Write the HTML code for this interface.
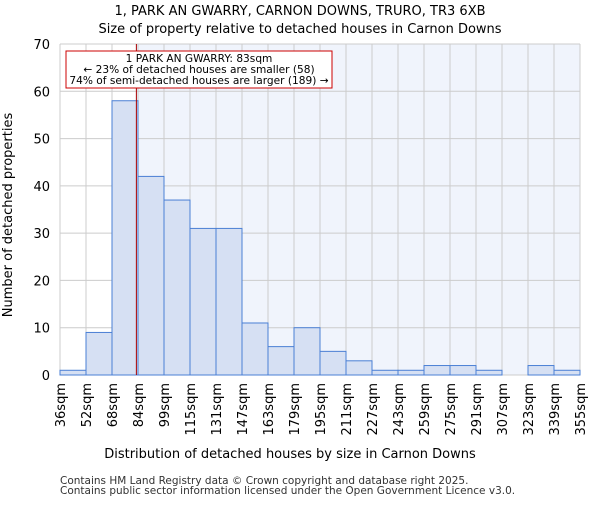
<!DOCTYPE html>
<html><head><meta charset="utf-8"><style>body{margin:0;background:#fff}svg{font-family:"DejaVu Sans","Liberation Sans",sans-serif}</style></head>
<body>
<svg id="c" width="600" height="500"></svg>
<script>
const edges=[36,52,68,84,99,115,131,147,163,179,195,211,227,243,259,275,291,307,323,339,355];
const counts=[1,9,58,42,37,31,31,11,6,10,5,3,1,1,2,2,1,0,2,1];
const yTicks=[0,10,20,30,40,50,60,70];
const marker=83;
const svg=document.getElementById('c');const NS='http://www.w3.org/2000/svg';
const L=60,R=580,T=44,B=375;
const xs=i=>L+(R-L)*i/counts.length;
const xv=v=>{for(let i=0;i<edges.length-1;i++){if(v<=edges[i+1])return xs(i)+(v-edges[i])/(edges[i+1]-edges[i])*(xs(i+1)-xs(i));}return R;};
const y=v=>B-(B-T)*v/70;
function el(t,a,name,txt){const e=document.createElementNS(NS,t);for(const k in a)e.setAttribute(k,a[k]);


if(txt!==undefined)e.textContent=txt;svg.appendChild(e);return e;}
const mx=xv(marker);
el('rect',{x:L,y:T,width:mx-L,height:B-T,fill:'#ffffff'},'plot-background-left');
el('rect',{x:mx,y:T,width:R-mx,height:B-T,fill:'#f0f4fc'},'plot-background-right');
yTicks.forEach(t=>{el('line',{x1:L,x2:R,y1:y(t),y2:y(t),stroke:'#cccccc'},'y-gridline');
el('text',{x:50,y:y(t)+5,'text-anchor':'end','font-size':13},'y-tick-label',t);});
edges.forEach((e,i)=>{el('line',{x1:xs(i),x2:xs(i),y1:T,y2:B,stroke:'#cccccc'},'x-gridline');
el('text',{transform:`translate(${xs(i)+5},${B+8}) rotate(-90)`,'text-anchor':'end','font-size':13},'x-tick-label',e+'sqm');});
counts.forEach((c,i)=>{if(c>0)el('rect',{x:xs(i),y:y(c),width:xs(i+1)-xs(i),height:B-y(c),fill:'#d6e0f3',stroke:'#4a7fd4','stroke-width':1},'bar-'+edges[i]);});
el('line',{x1:mx,x2:mx,y1:T,y2:B,stroke:'#aa0000','stroke-width':1},'property-marker-line');
el('rect',{x:66,y:51,width:266,height:37,fill:'#fff',stroke:'#cc0000'},'annotation-box');
el('text',{x:199,y:62,'text-anchor':'middle','font-size':10.6},'annotation-title','1 PARK AN GWARRY: 83sqm');
el('text',{x:199,y:73,'text-anchor':'middle','font-size':10.6},'annotation-smaller','← 23% of detached houses are smaller (58)');
el('text',{x:199,y:84,'text-anchor':'middle','font-size':10.6},'annotation-larger','74% of semi-detached houses are larger (189) →');
el('text',{x:300,y:15,'text-anchor':'middle','font-size':13},'chart-title','1, PARK AN GWARRY, CARNON DOWNS, TRURO, TR3 6XB');
el('text',{x:300,y:33,'text-anchor':'middle','font-size':13},'chart-subtitle','Size of property relative to detached houses in Carnon Downs');
el('text',{x:290,y:458,'text-anchor':'middle','font-size':13},'x-axis-title','Distribution of detached houses by size in Carnon Downs');
el('text',{transform:'translate(12,215) rotate(-90)','text-anchor':'middle','font-size':13},'y-axis-title','Number of detached properties');
el('text',{x:60,y:484,'font-size':10.5,fill:'#333'},'footer-line-1','Contains HM Land Registry data © Crown copyright and database right 2025.');
el('text',{x:60,y:494,'font-size':10.5,fill:'#333'},'footer-line-2','Contains public sector information licensed under the Open Government Licence v3.0.');
</script>
</body></html>
